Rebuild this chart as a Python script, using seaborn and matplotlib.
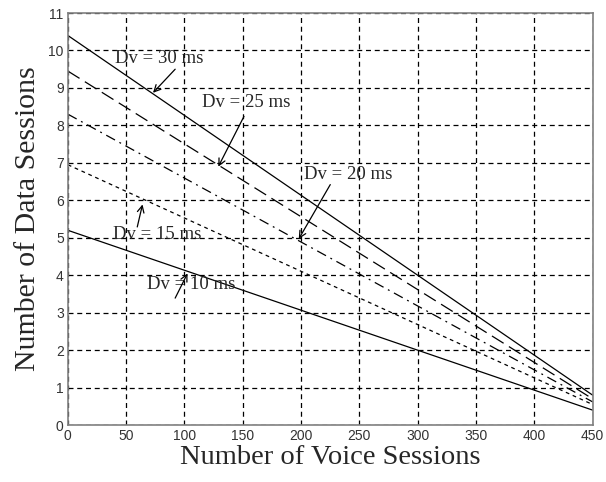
import pandas as pd
import seaborn as sns
import matplotlib.pyplot as plt

# voice sessions (x) and data sessions (y) at the ends of each line
voice = [0, 450]
dv_30 = [10.4, 0.8]
dv_25 = [9.45, 0.7]
dv_20 = [8.3, 0.62]
dv_15 = [6.95, 0.55]
dv_10 = [5.2, 0.4]

labels = ["Dv = 30 ms", "Dv = 25 ms", "Dv = 20 ms", "Dv = 15 ms", "Dv = 10 ms"]
series = [dv_30, dv_25, dv_20, dv_15, dv_10]
dashes = [(None, None), (11, 5), (8, 4, 1.5, 4), (3, 3), (None, None)]

# annotation: text position, arrow tail, arrow tip
text_pos = [(78, 9.78), (153, 8.6), (240, 6.7), (77, 5.08), (106, 3.76)]
arrow_tail = [(92, 9.5), (151, 8.24), (225, 6.42), (59.5, 5.29), (92, 3.39)]
arrow_tip = [(73, 8.87), (129, 6.9), (198, 4.97), (64, 5.89), (102.6, 4.05)]

rows = []
for lab, ys in zip(labels, series):
    for x, y in zip(voice, ys):
        rows.append({"voice": x, "data": y, "curve": lab})
df = pd.DataFrame(rows)

sns.set_style("white")
fig = plt.figure(figsize=(6.06, 4.82), dpi=100)
ax = fig.add_axes([0.112, 0.118, 0.866, 0.855])

for lab, d in zip(labels, dashes):
    sub = df[df["curve"] == lab]
    sns.lineplot(data=sub, x="voice", y="data", color="black", lw=0.9, ax=ax)
    if d[0] is not None:
        ax.lines[-1].set_dashes(d)

ax.set_xlim(0, 450)
ax.set_ylim(0, 11)
ax.set_xticks(range(0, 451, 50))
ax.set_yticks(range(0, 12))
ax.grid(True, color="black", linestyle=(0, (4, 3)), lw=0.9)
for s in ax.spines.values():
    s.set_color("#808080")
    s.set_linewidth(1.2)
ax.tick_params(direction="in", length=4, labelsize=10, colors="#444444",
               labelcolor="#333333", pad=3)
for t in ax.get_xticklabels() + ax.get_yticklabels():
    t.set_fontfamily("Liberation Sans")

ax.set_xlabel("Number of Voice Sessions", fontsize=20.5, family="Liberation Serif", labelpad=1)
ax.set_ylabel("Number of Data Sessions", fontsize=21.5, family="Liberation Serif", labelpad=5)

for lab, tp, tail, tip in zip(labels, text_pos, arrow_tail, arrow_tip):
    ax.text(tp[0], tp[1], lab, ha="center", va="center", fontsize=13.5,
            family="Liberation Serif")
    ax.annotate("", xy=tip, xytext=tail,
                arrowprops=dict(arrowstyle="->", color="black", lw=0.9,
                                shrinkA=0, shrinkB=0, mutation_scale=12))

fig.savefig("out.png", dpi=100)
